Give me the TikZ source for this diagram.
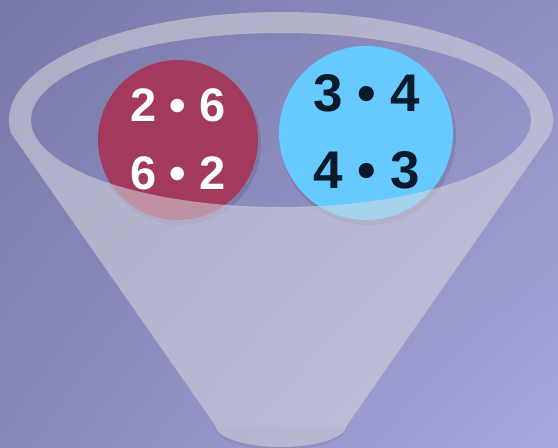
\documentclass[tikz,border=0pt]{standalone}
\usepackage{fontspec}
\setmainfont{Liberation Sans}
\usetikzlibrary{shadows,shadings}
\definecolor{bgul}{HTML}{7878A8}
\definecolor{bgur}{HTML}{8E8EC0}
\definecolor{bgll}{HTML}{8888BB}
\definecolor{bglr}{HTML}{A8A8DD}
\definecolor{redball}{HTML}{A33A5E}
\definecolor{blueball}{HTML}{66C9FF}
\definecolor{navytext}{HTML}{0A1A2C}
\definecolor{funnelc}{HTML}{D8D8DE}
\tikzset{
  ball/.style={circle, inner sep=0pt, draw=none},
  redtxt/.style={text=white, font=\fontsize{47}{47}\selectfont\bfseries, inner sep=0pt},
  bluetxt/.style={text=navytext, font=\fontsize{53}{53}\selectfont\bfseries, inner sep=0pt},
  funnelbody/.style={fill=funnelc, fill opacity=0.55, even odd rule}
}
\begin{document}
\begin{tikzpicture}[x=1pt,y=1pt]
\useasboundingbox (0,0) rectangle (558,448);
\shade[upper left=bgul, upper right=bgur, lower left=bgll, lower right=bglr] (0,0) rectangle (558,448);
% soft shadows of balls
\fill[black, opacity=0.10] (180,304) circle[radius=81];
\fill[black, opacity=0.10] (368,311) circle[radius=88];
% balls
\node[ball, fill=redball, minimum size=160pt] (red) at (178,308) {};
\node[ball, fill=blueball, minimum size=174pt] (blue) at (366,315) {};
\node[redtxt] (r1) at (178,343) {2 • 6};
\node[redtxt] (r2) at (178,275) {6 • 2};
\node[bluetxt] (b1) at (367,355) {3 • 4};
\node[bluetxt] (b2) at (367,278) {4 • 3};
% funnel shadow
\fill[black, opacity=0.06] (215,21) arc[start angle=180, end angle=360, x radius=66, y radius=23] -- (347,21) -- cycle;
% funnel
\coordinate (fc) at (281,328);
\coordinate (ftl) at (11.03,314.84);
\coordinate (fbr) at (347,23);
\path[funnelbody] (ftl) arc[start angle=187, end angle=-7, x radius=272, y radius=108]
  -- (fbr) arc[start angle=0, end angle=-180, x radius=66, y radius=22] -- cycle
  (fc) ellipse[x radius=250, y radius=87];
\end{tikzpicture}
\end{document}
